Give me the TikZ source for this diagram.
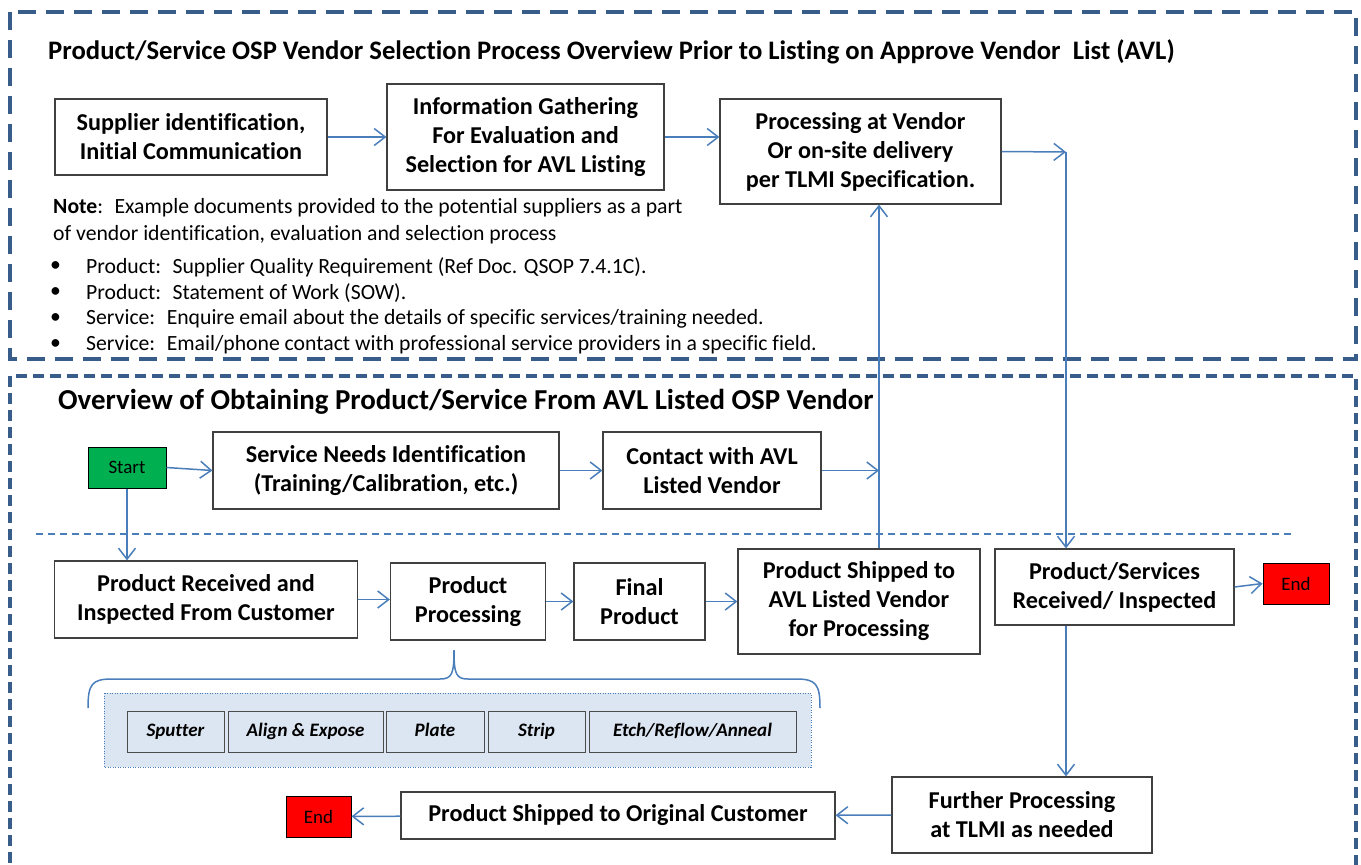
\documentclass[tikz,border=0pt]{standalone}
\usepackage{fontspec}
\setmainfont{Carlito}[Ligatures=CommonOff]
\usetikzlibrary{arrows.meta,shadows}
\definecolor{frameblue}{HTML}{385D8A}
\definecolor{lineblue}{HTML}{4A7EBB}
\definecolor{paleblue}{HTML}{DCE6F2}
\definecolor{startgreen}{HTML}{00B050}

\begin{document}
\begin{tikzpicture}[x=1pt,y=-1pt,
  procbox/.style={draw=black!75,line width=1.2pt,fill=white,align=center,inner sep=2pt,
    font=\fontsize{24.2}{29}\selectfont\bfseries},
  subbox/.style={draw=black!70,line width=1pt,fill=paleblue,minimum height=41pt,inner sep=1pt,
    text height=13pt,text depth=4pt,
    font=\fontsize{19}{22}\selectfont\bfseries\itshape,
    drop shadow={shadow xshift=1.3pt,shadow yshift=-1.3pt,fill=black!75,opacity=1}},
  termbox/.style={draw=black,line width=1pt,minimum height=41pt,
    font=\fontsize{19}{22}\selectfont},
  link/.style={draw=lineblue,line width=1.5pt,-{Straight Barb[length=11pt,width=17pt]}},
  sect/.style={draw=frameblue,line width=4pt},
  heading/.style={anchor=west,inner sep=0pt,font=\fontsize{26.7}{32}\selectfont\bfseries},
  notetext/.style={anchor=west,inner sep=0pt,font=\fontsize{21.7}{26}\selectfont}]
\useasboundingbox (0,0) rectangle (1361,865);
\clip (0,0) rectangle (1361,865);

% section frames
\draw[sect,dash pattern=on 18pt off 10pt] (10,12) rectangle (1356,359);
\draw[sect,dash pattern=on 11pt off 6pt] (10,376) rectangle (1356,900);
\draw[lineblue,line width=1.2pt,dash pattern=on 7pt off 5pt] (36,534) -- (1295,534);

% vendor selection
\node[heading] (head1) at (48,52) {Product/Service OSP Vendor Selection Process Overview Prior to Listing on Approve Vendor~ List (AVL)};
\node[procbox,minimum width=272pt,minimum height=76pt] (sup) at (191,137) {Supplier identification,\\Initial Communication};
\node[procbox,minimum width=277pt,minimum height=106pt] (info) at (525.5,137) {Information Gathering\\For Evaluation and\\Selection for AVL Listing};
\node[procbox,minimum width=281pt,minimum height=105pt] (proc) at (860.5,151.5) {Processing at Vendor\\Or on-site delivery\\per TLMI Specification.};
\node[notetext] (note1) at (53,208) {\textbf{Note}:~ Example documents provided to the potential suppliers as a part};
\node[notetext] (note2) at (53,235) {of vendor identification, evaluation and selection process};
\foreach \txt [count=\i] in {{Product:~ Supplier Quality Requirement (Ref Doc. QSOP 7.4.1C).},
  {Product:~ Statement of Work (SOW).},
  {Service:~ Enquire email about the details of specific services/training needed.},
  {Service:~ Email/phone contact with professional service providers in a specific field.}}{
  \node[notetext] (dot\i) at (50,241+26*\i) {\textbullet};
  \node[notetext] (item\i) at (86,241+26*\i) {\txt};
}

% obtaining from AVL vendor
\node[heading,font=\fontsize{28.9}{34}\selectfont\bfseries] (head2) at (58,402) {Overview of Obtaining Product/Service From AVL Listed OSP Vendor};
\node[termbox,fill=startgreen,minimum width=78pt] (start) at (127,467.5) {Start};
\node[procbox,minimum width=346pt,minimum height=77pt] (svc) at (386,470.5) {Service Needs Identification\\(Training/Calibration, etc.)};
\node[procbox,minimum width=218pt,minimum height=77pt] (contact) at (712,470.5) {Contact with AVL\\Listed Vendor};
\node[procbox,minimum width=303pt,minimum height=77pt] (recvd) at (206,599.5) {Product Received and\\Inspected From Customer};
\node[procbox,minimum width=155pt,minimum height=77pt] (pproc) at (468,601.5) {Product\\Processing};
\node[procbox,minimum width=131pt,minimum height=77pt] (final) at (639.5,601.5) {Final\\Product};
\node[procbox,minimum width=242pt,minimum height=105pt] (ship) at (859,601.5) {Product Shipped to\\AVL Listed Vendor\\for Processing};
\node[procbox,minimum width=239pt,minimum height=76pt] (psr) at (1114.5,587) {Product/Services\\Received/ Inspected};
\node[termbox,fill=red,minimum width=66pt] (end1) at (1296,583.5) {End};
\node[procbox,minimum width=260pt,minimum height=76pt] (further) at (1022,815) {Further Processing\\at TLMI as needed};
\node[procbox,minimum width=434pt,minimum height=47pt] (shipcust) at (618,815.5) {Product Shipped to Original Customer};
\node[termbox,fill=red,minimum width=65pt] (end2) at (318.5,816.5) {End};

% processing steps
\draw[lineblue,line width=1.5pt] (88,708) .. controls (88,684) and (92,679) .. (112,679) -- (440,679)
  .. controls (452,679) and (454,674) .. (454,650) .. controls (454,674) and (456,679) .. (468,679)
  -- (796,679) .. controls (816,679) and (820,684) .. (820,708);
\draw[lineblue,fill=paleblue,line width=1pt,dash pattern=on 1pt off 1.5pt] (104,693) rectangle (811,767);
\node[subbox,minimum width=97pt] (sputter) at (175.5,731.5) {Sputter};
\node[subbox,minimum width=155pt] (align) at (305.5,731.5) {Align \& Expose};
\node[subbox,minimum width=98pt] (plate) at (435,731.5) {Plate};
\node[subbox,minimum width=97pt] (strip) at (536.5,731.5) {Strip};
\node[subbox,minimum width=207pt] (etch) at (692.5,731.5) {Etch/Reflow/Anneal};

% connectors
\coordinate (turn) at (1066,152);
\coordinate (meet) at (879,470.5);
\draw[link] (sup) -- (info);
\draw[link] (info.east) -- (info.east -| proc.west);
\draw[link] (proc.east) -- (turn);
\draw[link] (turn) -- (turn |- psr.north);
\draw[link] (start.east) -- (svc.west);
\draw[link] (svc) -- (contact);
\draw[link] (contact.east) -- (meet);
\draw[link] (ship.north -| meet) -- (proc.south -| meet);
\draw[link] (start.south) -- (start.south |- recvd.north);
\draw[link] (recvd.east) -- (recvd.east -| pproc.west);
\draw[link] (pproc) -- (final);
\draw[link] (final) -- (ship);
\draw[link] (psr.east) -- (end1.west);
\draw[link] (turn |- psr.south) -- (turn |- further.north);
\draw[link] (further) -- (shipcust);
\draw[link] (shipcust) -- (end2);
\end{tikzpicture}
\end{document}
